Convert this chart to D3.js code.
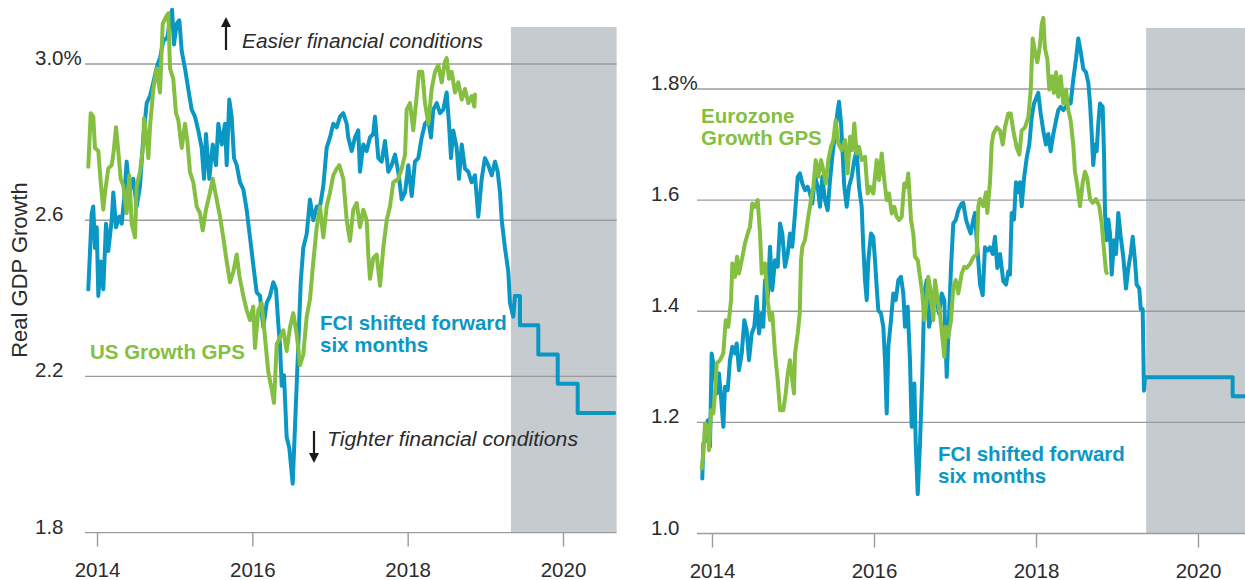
<!DOCTYPE html>
<html><head><meta charset="utf-8">
<script src="https://cdn.jsdelivr.net/npm/d3@7"></script>
<style>
html,body{margin:0;padding:0;background:#fff;}
svg{display:block;}
text{font-family:"Liberation Sans",Arial,sans-serif;}
</style></head><body>
<svg id="chart" width="1245" height="580"></svg>
<script>
// ---------------- data ----------------
const yearTicks = [2014, 2016, 2018, 2020];
const usYTicks = [1.8, 2.2, 2.6, 3.0];
const usYLabels = ["1.8", "2.2", "2.6", "3.0%"];
const euYTicks = [1.0, 1.2, 1.4, 1.6, 1.8];
const euYLabels = ["1.0", "1.2", "1.4", "1.6", "1.8%"];
const usShade = [2019.33, 2020.69];
const euShade = [2019.36, 2020.58];

const usGps = [[2013.888,2.737],[2013.919,2.874],[2013.952,2.865],[2013.974,2.785],[2014.017,2.777],[2014.048,2.697],[2014.081,2.627],[2014.103,2.671],[2014.145,2.732],[2014.189,2.741],[2014.210,2.768],[2014.245,2.838],[2014.274,2.777],[2014.305,2.706],[2014.339,2.688],[2014.382,2.618],[2014.416,2.715],[2014.447,2.591],[2014.489,2.556],[2014.511,2.688],[2014.554,2.724],[2014.596,2.794],[2014.605,2.861],[2014.640,2.812],[2014.661,2.759],[2014.682,2.838],[2014.725,2.936],[2014.769,2.989],[2014.811,2.927],[2014.846,3.103],[2014.888,3.121],[2014.918,3.130],[2014.940,2.989],[2014.982,2.962],[2015.017,2.874],[2015.047,2.856],[2015.091,2.785],[2015.133,2.847],[2015.163,2.803],[2015.197,2.724],[2015.240,2.697],[2015.284,2.635],[2015.326,2.618],[2015.361,2.574],[2015.403,2.627],[2015.455,2.671],[2015.490,2.706],[2015.541,2.653],[2015.584,2.609],[2015.626,2.556],[2015.670,2.494],[2015.712,2.441],[2015.755,2.468],[2015.799,2.512],[2015.832,2.459],[2015.884,2.406],[2015.927,2.370],[2015.970,2.344],[2016.012,2.379],[2016.034,2.273],[2016.077,2.370],[2016.120,2.388],[2016.163,2.300],[2016.205,2.212],[2016.249,2.167],[2016.279,2.132],[2016.314,2.282],[2016.356,2.300],[2016.399,2.318],[2016.442,2.265],[2016.485,2.326],[2016.527,2.362],[2016.571,2.309],[2016.614,2.229],[2016.656,2.256],[2016.700,2.353],[2016.742,2.397],[2016.785,2.494],[2016.829,2.582],[2016.871,2.635],[2016.914,2.556],[2016.957,2.635],[2017.000,2.671],[2017.042,2.715],[2017.086,2.732],[2017.120,2.741],[2017.171,2.706],[2017.215,2.600],[2017.257,2.547],[2017.300,2.627],[2017.344,2.644],[2017.386,2.582],[2017.429,2.627],[2017.472,2.600],[2017.493,2.512],[2017.515,2.450],[2017.557,2.503],[2017.601,2.512],[2017.644,2.432],[2017.686,2.529],[2017.730,2.600],[2017.772,2.635],[2017.815,2.697],[2017.879,2.706],[2017.923,2.732],[2017.966,2.768],[2017.987,2.883],[2018.030,2.900],[2018.072,2.830],[2018.116,2.918],[2018.146,2.980],[2018.188,2.980],[2018.223,2.900],[2018.266,2.847],[2018.309,2.936],[2018.352,2.980],[2018.394,2.997],[2018.438,2.953],[2018.480,3.006],[2018.502,3.015],[2018.532,2.962],[2018.567,2.980],[2018.609,2.927],[2018.652,2.953],[2018.696,2.909],[2018.738,2.936],[2018.781,2.900],[2018.824,2.918],[2018.858,2.891],[2018.867,2.922]];

const usFci = [[2013.888,2.423],[2013.932,2.618],[2013.952,2.635],[2013.974,2.529],[2013.996,2.582],[2014.017,2.406],[2014.048,2.494],[2014.081,2.423],[2014.116,2.591],[2014.145,2.521],[2014.189,2.600],[2014.210,2.671],[2014.245,2.582],[2014.287,2.609],[2014.318,2.591],[2014.348,2.653],[2014.382,2.750],[2014.416,2.671],[2014.467,2.706],[2014.511,2.635],[2014.554,2.688],[2014.596,2.812],[2014.640,2.900],[2014.682,2.918],[2014.725,2.953],[2014.776,2.997],[2014.811,3.015],[2014.854,3.059],[2014.905,3.068],[2014.940,3.112],[2014.966,3.139],[2014.991,3.050],[2015.026,3.103],[2015.060,3.112],[2015.091,3.033],[2015.133,2.989],[2015.175,2.936],[2015.219,2.883],[2015.262,2.865],[2015.304,2.830],[2015.348,2.785],[2015.378,2.706],[2015.403,2.821],[2015.446,2.706],[2015.490,2.794],[2015.532,2.741],[2015.562,2.847],[2015.606,2.794],[2015.648,2.847],[2015.670,2.741],[2015.703,2.909],[2015.734,2.865],[2015.764,2.759],[2015.799,2.741],[2015.841,2.697],[2015.884,2.679],[2015.927,2.627],[2015.970,2.556],[2016.012,2.485],[2016.056,2.415],[2016.099,2.406],[2016.141,2.326],[2016.185,2.388],[2016.227,2.406],[2016.270,2.441],[2016.305,2.423],[2016.334,2.335],[2016.356,2.282],[2016.378,2.176],[2016.408,2.203],[2016.442,2.044],[2016.476,2.017],[2016.520,1.925],[2016.549,2.070],[2016.592,2.282],[2016.623,2.441],[2016.656,2.529],[2016.700,2.565],[2016.742,2.653],[2016.785,2.600],[2016.829,2.635],[2016.871,2.635],[2016.914,2.688],[2016.957,2.785],[2017.000,2.812],[2017.042,2.847],[2017.086,2.838],[2017.129,2.865],[2017.171,2.874],[2017.215,2.847],[2017.235,2.812],[2017.279,2.777],[2017.322,2.812],[2017.364,2.830],[2017.386,2.724],[2017.429,2.794],[2017.472,2.777],[2017.515,2.812],[2017.557,2.821],[2017.579,2.865],[2017.622,2.759],[2017.665,2.750],[2017.708,2.803],[2017.751,2.724],[2017.794,2.741],[2017.837,2.768],[2017.879,2.724],[2017.923,2.653],[2017.966,2.671],[2018.008,2.741],[2018.052,2.662],[2018.094,2.750],[2018.137,2.759],[2018.181,2.812],[2018.223,2.847],[2018.266,2.856],[2018.300,2.812],[2018.330,2.883],[2018.374,2.900],[2018.416,2.874],[2018.459,2.883],[2018.502,2.927],[2018.532,2.847],[2018.558,2.759],[2018.587,2.830],[2018.631,2.785],[2018.661,2.706],[2018.696,2.794],[2018.738,2.732],[2018.781,2.724],[2018.824,2.697],[2018.867,2.715],[2018.909,2.609],[2018.953,2.706],[2018.995,2.759],[2019.038,2.741],[2019.082,2.715],[2019.124,2.750],[2019.159,2.724],[2019.189,2.671],[2019.211,2.600],[2019.253,2.529],[2019.296,2.468],[2019.317,2.388],[2019.360,2.353],[2019.382,2.406]];
const usFciForecast = [[2019.382,2.406],[2019.446,2.331],[2019.682,2.256],[2019.932,2.181],[2020.189,2.106],[2020.660,2.106]];

const euGps = [[2013.873,1.117],[2013.893,1.144],[2013.914,1.198],[2013.947,1.192],[2013.963,1.150],[2013.988,1.222],[2014.016,1.216],[2014.037,1.252],[2014.058,1.306],[2014.099,1.312],[2014.140,1.324],[2014.169,1.384],[2014.201,1.372],[2014.235,1.420],[2014.251,1.486],[2014.284,1.462],[2014.309,1.498],[2014.333,1.468],[2014.367,1.492],[2014.407,1.522],[2014.441,1.540],[2014.469,1.552],[2014.498,1.594],[2014.531,1.588],[2014.564,1.600],[2014.593,1.540],[2014.614,1.468],[2014.654,1.486],[2014.688,1.420],[2014.716,1.384],[2014.744,1.396],[2014.778,1.324],[2014.811,1.276],[2014.840,1.222],[2014.880,1.222],[2014.910,1.252],[2014.935,1.288],[2014.963,1.312],[2014.991,1.276],[2015.012,1.252],[2015.025,1.324],[2015.058,1.360],[2015.083,1.396],[2015.099,1.492],[2015.115,1.516],[2015.148,1.528],[2015.189,1.570],[2015.222,1.600],[2015.251,1.624],[2015.280,1.672],[2015.312,1.642],[2015.346,1.672],[2015.374,1.654],[2015.404,1.630],[2015.436,1.672],[2015.469,1.696],[2015.498,1.708],[2015.527,1.744],[2015.559,1.702],[2015.601,1.690],[2015.642,1.708],[2015.675,1.648],[2015.704,1.714],[2015.732,1.690],[2015.757,1.738],[2015.786,1.684],[2015.815,1.696],[2015.848,1.672],[2015.889,1.678],[2015.922,1.612],[2015.951,1.624],[2015.991,1.612],[2016.033,1.672],[2016.062,1.636],[2016.095,1.684],[2016.127,1.636],[2016.157,1.600],[2016.185,1.612],[2016.219,1.576],[2016.251,1.588],[2016.280,1.570],[2016.309,1.564],[2016.342,1.570],[2016.374,1.630],[2016.404,1.624],[2016.423,1.648],[2016.457,1.564],[2016.485,1.540],[2016.506,1.498],[2016.540,1.492],[2016.568,1.462],[2016.596,1.432],[2016.621,1.384],[2016.651,1.420],[2016.670,1.462],[2016.704,1.432],[2016.732,1.384],[2016.753,1.456],[2016.786,1.420],[2016.815,1.396],[2016.843,1.354],[2016.868,1.318],[2016.885,1.372],[2016.917,1.354],[2016.951,1.384],[2016.979,1.444],[2017.009,1.456],[2017.041,1.432],[2017.083,1.468],[2017.115,1.480],[2017.144,1.478],[2017.185,1.485],[2017.226,1.497],[2017.268,1.503],[2017.288,1.589],[2017.309,1.602],[2017.349,1.589],[2017.383,1.614],[2017.399,1.577],[2017.432,1.632],[2017.453,1.700],[2017.473,1.719],[2017.515,1.731],[2017.556,1.725],[2017.589,1.700],[2017.617,1.731],[2017.658,1.756],[2017.688,1.756],[2017.720,1.725],[2017.762,1.694],[2017.794,1.682],[2017.823,1.725],[2017.864,1.731],[2017.905,1.749],[2017.935,1.799],[2017.959,1.891],[2017.988,1.866],[2018.016,1.848],[2018.049,1.879],[2018.070,1.916],[2018.090,1.928],[2018.111,1.873],[2018.140,1.854],[2018.164,1.799],[2018.194,1.823],[2018.222,1.793],[2018.247,1.830],[2018.275,1.786],[2018.305,1.823],[2018.337,1.774],[2018.370,1.799],[2018.399,1.762],[2018.428,1.743],[2018.460,1.700],[2018.481,1.651],[2018.510,1.626],[2018.543,1.589],[2018.577,1.632],[2018.605,1.651],[2018.633,1.639],[2018.667,1.602],[2018.700,1.595],[2018.741,1.602],[2018.781,1.589],[2018.811,1.558],[2018.840,1.509],[2018.864,1.472],[2018.873,1.469]];

const euFci = [[2013.880,1.099],[2013.893,1.162],[2013.922,1.168],[2013.947,1.204],[2013.975,1.156],[2013.996,1.324],[2014.028,1.294],[2014.058,1.252],[2014.086,1.288],[2014.111,1.246],[2014.140,1.192],[2014.160,1.264],[2014.194,1.258],[2014.222,1.312],[2014.251,1.336],[2014.284,1.324],[2014.305,1.342],[2014.333,1.294],[2014.367,1.324],[2014.399,1.384],[2014.428,1.366],[2014.457,1.312],[2014.490,1.360],[2014.522,1.372],[2014.552,1.426],[2014.580,1.360],[2014.614,1.396],[2014.633,1.372],[2014.654,1.456],[2014.688,1.426],[2014.716,1.516],[2014.744,1.438],[2014.778,1.492],[2014.811,1.480],[2014.840,1.558],[2014.868,1.540],[2014.901,1.480],[2014.935,1.504],[2014.963,1.540],[2014.991,1.516],[2015.025,1.576],[2015.058,1.642],[2015.086,1.648],[2015.115,1.630],[2015.148,1.618],[2015.181,1.624],[2015.210,1.612],[2015.238,1.594],[2015.272,1.642],[2015.305,1.624],[2015.333,1.588],[2015.362,1.642],[2015.395,1.600],[2015.428,1.582],[2015.457,1.636],[2015.485,1.678],[2015.519,1.720],[2015.552,1.762],[2015.568,1.777],[2015.593,1.738],[2015.609,1.696],[2015.633,1.624],[2015.663,1.588],[2015.691,1.624],[2015.725,1.642],[2015.757,1.672],[2015.786,1.690],[2015.815,1.624],[2015.848,1.588],[2015.868,1.516],[2015.889,1.456],[2015.910,1.420],[2015.930,1.492],[2015.963,1.540],[2015.991,1.534],[2016.012,1.492],[2016.033,1.444],[2016.053,1.402],[2016.086,1.396],[2016.115,1.372],[2016.136,1.312],[2016.157,1.216],[2016.177,1.336],[2016.210,1.384],[2016.238,1.432],[2016.268,1.420],[2016.300,1.456],[2016.333,1.462],[2016.362,1.432],[2016.383,1.372],[2016.416,1.408],[2016.444,1.312],[2016.465,1.192],[2016.498,1.270],[2016.515,1.162],[2016.540,1.071],[2016.568,1.162],[2016.596,1.282],[2016.621,1.432],[2016.651,1.456],[2016.679,1.372],[2016.712,1.396],[2016.744,1.432],[2016.774,1.420],[2016.802,1.396],[2016.836,1.432],[2016.868,1.420],[2016.898,1.282],[2016.917,1.354],[2016.951,1.480],[2016.979,1.558],[2017.009,1.564],[2017.041,1.582],[2017.083,1.594],[2017.102,1.595],[2017.136,1.565],[2017.164,1.552],[2017.194,1.540],[2017.226,1.565],[2017.247,1.577],[2017.268,1.528],[2017.288,1.491],[2017.309,1.448],[2017.342,1.429],[2017.370,1.515],[2017.399,1.509],[2017.432,1.515],[2017.465,1.503],[2017.494,1.534],[2017.522,1.478],[2017.556,1.503],[2017.596,1.454],[2017.630,1.448],[2017.658,1.472],[2017.679,1.466],[2017.700,1.577],[2017.728,1.565],[2017.753,1.632],[2017.781,1.614],[2017.802,1.632],[2017.823,1.589],[2017.852,1.639],[2017.885,1.676],[2017.917,1.700],[2017.947,1.749],[2017.975,1.774],[2018.009,1.786],[2018.028,1.793],[2018.058,1.756],[2018.090,1.725],[2018.123,1.700],[2018.152,1.719],[2018.181,1.688],[2018.214,1.719],[2018.247,1.743],[2018.275,1.762],[2018.305,1.768],[2018.337,1.762],[2018.370,1.768],[2018.399,1.774],[2018.428,1.774],[2018.460,1.817],[2018.494,1.854],[2018.522,1.891],[2018.552,1.867],[2018.584,1.836],[2018.617,1.830],[2018.646,1.811],[2018.667,1.774],[2018.688,1.719],[2018.707,1.663],[2018.728,1.700],[2018.749,1.688],[2018.769,1.737],[2018.790,1.774],[2018.823,1.768],[2018.840,1.682],[2018.852,1.577],[2018.873,1.528],[2018.893,1.565],[2018.914,1.540],[2018.935,1.466],[2018.963,1.528],[2018.988,1.503],[2019.016,1.577],[2019.046,1.534],[2019.078,1.497],[2019.111,1.441],[2019.140,1.478],[2019.169,1.503],[2019.194,1.534],[2019.222,1.491],[2019.243,1.448],[2019.275,1.441],[2019.293,1.404],[2019.317,1.404],[2019.333,1.257],[2019.346,1.281]];
const euFciForecast = [[2019.346,1.281],[2020.428,1.247],[2020.580,1.247]];

// ---------------- styles ----------------
const BLUE = "#0b97c4", GREEN = "#84bf41", GRID = "#9b9b9b", SHADE = "#c5cbcf", TXT = "#2b2b2b";
const FONT = '"Liberation Sans",Arial,sans-serif';

const svg = d3.select("#chart");
svg.append("rect").attr("width", 1245).attr("height", 580).attr("fill", "#fff");

function panel(cfg) {
  const x = d3.scaleLinear().domain([2014, 2020]).range(cfg.xr);
  const y = d3.scaleLinear().domain([cfg.yTicks[0], cfg.yTicks[cfg.yTicks.length - 1]]).range(cfg.yr);
  const g = svg.append("g");
  const yBottom = y(cfg.yTicks[0]);

  g.append("rect")
    .attr("x", x(cfg.shade[0])).attr("width", x(cfg.shade[1]) - x(cfg.shade[0]))
    .attr("y", cfg.shadeTop).attr("height", yBottom - cfg.shadeTop)
    .attr("fill", SHADE);

  g.selectAll("line.grid").data(cfg.yTicks).join("line")
    .attr("class", "grid")
    .attr("x1", cfg.gridX0).attr("x2", x(cfg.shade[1]))
    .attr("y1", d => y(d)).attr("y2", d => y(d))
    .attr("stroke", GRID).attr("stroke-width", 1.4);

  g.selectAll("text.ylab").data(cfg.yTicks).join("text")
    .attr("class", "ylab")
    .attr("x", cfg.labelX).attr("y", d => y(d) + 1)
    .attr("font-size", 20.5).attr("fill", TXT)
    .text((d, i) => cfg.yLabels[i]);

  const ax = g.append("g").attr("transform", `translate(0,${yBottom})`)
    .call(d3.axisBottom(x).tickValues(yearTicks).tickFormat(d3.format("d")).tickSizeInner(14).tickSizeOuter(0));
  ax.select(".domain").remove();
  ax.selectAll(".tick line").attr("stroke", GRID).attr("stroke-width", 1.4);
  ax.selectAll(".tick text").attr("y", 44).attr("dy", null)
    .attr("font-size", 20.5).attr("fill", TXT).attr("font-family", FONT);

  const line = d3.line().x(d => x(d[0])).y(d => y(d[1]));
  const stepLine = d3.line().x(d => x(d[0])).y(d => y(d[1])).curve(d3.curveStepAfter);

  const style = (p, c) => p.attr("fill", "none").attr("stroke", c).attr("stroke-width", 4)
    .attr("stroke-linejoin", "round").attr("stroke-linecap", "round");

  style(g.append("path").datum(cfg.fci).attr("d", line), BLUE);
  style(g.append("path").datum(cfg.fcst).attr("d", stepLine), BLUE);
  style(g.append("path").datum(cfg.gps).attr("d", line), GREEN);
  return g;
}

const L = panel({xr: [97, 563], yr: [532.6, 64], yTicks: usYTicks, yLabels: usYLabels,
  shade: usShade, shadeTop: 27, gridX0: 85, labelX: 35,
  gps: usGps, fci: usFci, fcst: usFciForecast});
const R = panel({xr: [712, 1198], yr: [533.5, 89], yTicks: euYTicks, yLabels: euYLabels,
  shade: euShade, shadeTop: 28, gridX0: 697, labelX: 651,
  gps: euGps, fci: euFci, fcst: euFciForecast});

// y axis title
svg.append("text").attr("transform", "translate(26.5,270) rotate(-90)")
  .attr("text-anchor", "middle").attr("font-size", 22).attr("fill", TXT)
  .text("Real GDP Growth");

// series labels
function label(g, lines, x, y0, color) {
  const t = g.append("text").attr("font-size", 20.5).attr("font-weight", "bold").attr("fill", color);
  lines.forEach((s, i) => t.append("tspan").attr("x", x).attr("y", y0 + i * 21.5).text(s));
}
label(L, ["US Growth GPS"], 90, 359, GREEN);
label(L, ["FCI shifted forward", "six months"], 320, 330, BLUE);
label(R, ["Eurozone", "Growth GPS"], 701, 123, GREEN);
label(R, ["FCI shifted forward", "six months"], 938, 461, BLUE);

// annotation arrows
const arrow = (x, yTail, yTip) => {
  const dir = yTip < yTail ? -1 : 1;
  svg.append("line").attr("x1", x).attr("x2", x).attr("y1", yTail).attr("y2", yTip - dir * 8)
    .attr("stroke", "#1a1a1a").attr("stroke-width", 2.2);
  svg.append("path")
    .attr("d", `M${x - 5},${yTip - dir * 10} L${x + 5},${yTip - dir * 10} L${x},${yTip} Z`)
    .attr("fill", "#1a1a1a");
};
arrow(226, 50, 17);
arrow(314, 431, 463);

svg.append("text").attr("x", 242).attr("y", 48).attr("font-size", 20).attr("font-style", "italic")
  .attr("font-family", "Lato, 'Open Sans', sans-serif").attr("fill", TXT)
  .attr("textLength", 241).attr("lengthAdjust", "spacingAndGlyphs")
  .text("Easier financial conditions");
svg.append("text").attr("x", 327).attr("y", 446).attr("font-size", 20).attr("font-style", "italic")
  .attr("font-family", "Lato, 'Open Sans', sans-serif").attr("fill", TXT)
  .attr("textLength", 251).attr("lengthAdjust", "spacingAndGlyphs")
  .text("Tighter financial conditions");
</script>
</body></html>
